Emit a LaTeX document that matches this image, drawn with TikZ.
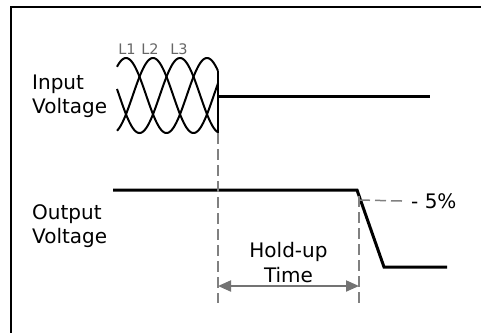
\documentclass[tikz,border=0pt]{standalone}
\usepackage{fontspec}
\setmainfont{DejaVu Sans}
\usetikzlibrary{arrows.meta}
\def\phasewave#1{\draw[wave] plot[domain=117:218, samples=90, smooth] (\x, {95.5-37.5*cos((\x-#1)/81*360)});}
\tikzset{
	wave/.style={line width=2pt, color=black},
	level/.style={line width=3pt, color=black},
	frame/.style={line width=1.5pt, color=black},
	guide/.style={line width=1.5pt, color=black!50, dash pattern=on 11pt off 5pt},
	span/.style={line width=2pt, color=black!55, {Triangle[length=13pt,width=11pt]}-{Triangle[length=13pt,width=11pt]}},
	caption/.style={font=\fontsize{20}{24}\selectfont, inner sep=0pt, align=left, anchor=base west},
	phase/.style={font=\fontsize{14.5}{17}\selectfont, color=black!60, inner sep=0pt, anchor=base},
}
\begin{document}
\begin{tikzpicture}[x=1pt, y=-1pt]
			%%%%% START %%%%%
			\useasboundingbox (0, 0) rectangle (481, 333);
			
			\draw[frame] (481, 7) -- (11, 7) -- (11, 333);
			
			\node[caption] (inlabel) at (32, 113) {Input\\Voltage};
			\node[caption] (outlabel) at (32, 243) {Output\\Voltage};
			
			\node[phase] (lone) at (127, 54) {L1};
			\node[phase] (ltwo) at (150, 54) {L2};
			\node[phase] (lthree) at (179, 54) {L3};
			
			\phasewave{126}
			\phasewave{153}
			\phasewave{180}
			
			\coordinate (fail) at (218, 71);
			\coordinate (failfoot) at (218, 133);
			\coordinate (failend) at (218, 303);
			\coordinate (inend) at (430, 96);
			\draw[wave] (fail) -- (failfoot);
			\draw[level] (218, 96) -- (inend);
			
			\coordinate (outstart) at (113, 190);
			\coordinate (knee) at (357, 190);
			\coordinate (floor) at (384, 267);
			\coordinate (outend) at (447, 267);
			\draw[level] (outstart) -- (knee) -- (floor) -- (outend);
			
			\coordinate (cut) at (359, 196);
			\coordinate (cutend) at (359, 306);
			\draw[guide] (failfoot) -- (failend);
			\draw[guide] (cut) -- (cutend);
			
			\node[anchor=west, inner sep=0pt, font=\fontsize{20}{24}\selectfont] (drop) at (411, 201) {- 5\%};
			\draw[guide] (359, 200) -- ([xshift=-9pt]drop.west);
			
			\node[font=\fontsize{20}{25}\selectfont, align=center, inner sep=0pt, anchor=base] (holdup) at (288.5, 282) {Hold-up\\Time};
			\draw[span] (218, 286) -- (359, 286);
			
			%%%%% END %%%%%
		\end{tikzpicture}
\end{document}
